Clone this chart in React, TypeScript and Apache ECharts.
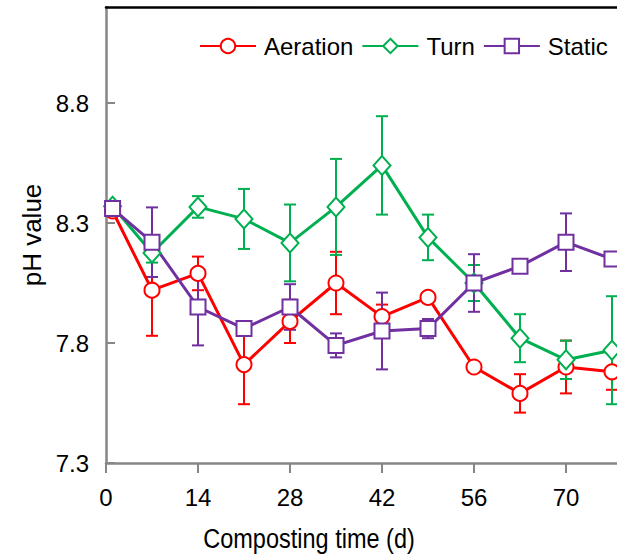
import React, { useEffect, useRef } from 'react';
import * as echarts from 'echarts';

const days = [1, 7, 14, 21, 28, 35, 42, 49, 56, 63, 70, 77];
const aeration = [8.35, 8.02, 8.09, 7.71, 7.89, 8.05, 7.91, 7.99, 7.7, 7.59, 7.7, 7.68];
const aerationSd = [0.02, 0.19, 0.07, 0.165, 0.09, 0.13, 0.05, 0.02, 0.02, 0.08, 0.11, 0.075];
const turn = [8.37, 8.175, 8.367, 8.317, 8.217, 8.367, 8.54, 8.24, 8.05, 7.82, 7.73, 7.77];
const turnSd = [0.02, 0.04, 0.045, 0.125, 0.16, 0.2, 0.205, 0.095, 0.075, 0.1, 0.08, 0.225];
const staticPile = [8.36, 8.22, 7.95, 7.86, 7.95, 7.79, 7.85, 7.86, 8.05, 8.12, 8.22, 8.15];
const staticSd = [0.02, 0.145, 0.16, 0.03, 0.095, 0.05, 0.16, 0.04, 0.12, 0.02, 0.12, 0.02];
const seriesNames = ['Aeration', 'Turn', 'Static'];
const xTicks = [0, 14, 28, 42, 56, 70];
const yTicks = [7.3, 7.8, 8.3, 8.8];
const xTitle = 'Composting time (d)';

const RED = '#FF0000';
const GREEN = '#00B050';
const PURPLE = '#7030A0';
const AXIS_GRAY = '#868686';
const REG = '"Liberation Sans", Arial, sans-serif';

function errSeries(name: string, vals: number[], sds: number[], color: string) {
  return {
    type: 'custom',
    name: name + ' SD',
    silent: true,
    data: days.map((d, i) => [d, vals[i], sds[i]]),
    encode: { x: 0, y: 1 },
    renderItem: (_params: any, api: any) => {
      const x = api.value(0);
      const y = api.value(1);
      const e = api.value(2);
      const top = api.coord([x, y + e]);
      const bot = api.coord([x, y - e]);
      const hw = 6;
      const st = { stroke: color, lineWidth: 2 };
      return {
        type: 'group',
        children: [
          { type: 'line', shape: { x1: top[0], y1: top[1], x2: bot[0], y2: bot[1] }, style: st },
          { type: 'line', shape: { x1: top[0] - hw, y1: top[1], x2: top[0] + hw, y2: top[1] }, style: st },
          { type: 'line', shape: { x1: bot[0] - hw, y1: bot[1], x2: bot[0] + hw, y2: bot[1] }, style: st },
        ],
      };
    },
  };
}

function lineSeries(name: string, vals: number[], color: string, symbol: string, size: any) {
  return {
    type: 'line',
    name,
    data: days.map((d, i) => [d, vals[i]]),
    symbol,
    symbolSize: size,
    showAllSymbol: true,
    lineStyle: { color, width: 3 },
    itemStyle: { color, borderColor: color, borderWidth: 2 },
    emphasis: { disabled: true },
  };
}

export default function App() {
  const ref = useRef<HTMLDivElement>(null);
  useEffect(() => {
    const prevMargin = document.body.style.margin;
    document.body.style.margin = '0';
    const chart = echarts.init(ref.current!, null, { renderer: 'svg' });
    chart.setOption({
      animation: false,
      backgroundColor: '#ffffff',
      grid: { left: 106, top: 7, width: 552, height: 456, containLabel: false },
      legend: {
        data: seriesNames,
        left: 199,
        top: 34,
        padding: 0,
        itemWidth: 56,
        itemHeight: 18,
        itemGap: 8,
        textStyle: { fontSize: 24, fontFamily: REG, color: '#000', padding: [0, 0, 0, 3] },
      },
      xAxis: [
        {
          type: 'value',
          min: 0,
          max: 84,
          interval: 14,
          axisLine: { show: true, onZero: false, lineStyle: { color: AXIS_GRAY, width: 2.5 } },
          axisTick: { show: true, inside: false, length: 10, lineStyle: { color: AXIS_GRAY, width: 2 }, customValues: xTicks },
          axisLabel: { show: true, margin: 22, fontSize: 24, fontFamily: REG, color: '#000', customValues: xTicks },
          splitLine: { show: false },
        },
        {
          type: 'value',
          position: 'top',
          min: 0,
          max: 84,
          axisLine: { show: true, onZero: false, lineStyle: { color: '#000', width: 2.5 } },
          axisTick: { show: false },
          axisLabel: { show: false },
          splitLine: { show: false },
        },
      ],
      yAxis: {
        type: 'value',
        min: 7.3,
        max: 9.2,
        name: 'pH value',
        nameLocation: 'middle',
        nameGap: 60,
        nameTextStyle: { fontSize: 26, fontFamily: REG, color: '#000' },
        axisLine: { show: true, onZero: false, lineStyle: { color: AXIS_GRAY, width: 2.5 } },
        axisTick: { show: true, inside: true, length: 9, lineStyle: { color: AXIS_GRAY, width: 2 }, customValues: yTicks },
        axisLabel: {
          show: true,
          margin: 17,
          fontSize: 24,
          fontFamily: REG,
          color: '#000',
          customValues: yTicks,
          formatter: (v: number) => v.toFixed(1),
        },
        splitLine: { show: false },
      },
      graphic: [
        {
          type: 'text',
          x: 309,
          y: 538,
          scaleX: 0.84,
          style: {
            text: xTitle,
            fontSize: 28,
            fontFamily: REG,
            fill: '#000',
            align: 'center',
            verticalAlign: 'middle',
          },
        },
      ],
      series: [
        errSeries('Aeration', aeration, aerationSd, RED),
        lineSeries('Aeration', aeration, RED, 'emptyCircle', 15),
        errSeries('Turn', turn, turnSd, GREEN),
        lineSeries('Turn', turn, GREEN, 'emptyDiamond', [17, 19]),
        errSeries('Static', staticPile, staticSd, PURPLE),
        lineSeries('Static', staticPile, PURPLE, 'emptyRect', 15),
      ],
    });
    return () => {
      chart.dispose();
      document.body.style.margin = prevMargin;
    };
  }, []);
  return (
    <div style={{ position: 'fixed', left: 0, top: 0, width: 617, height: 558, overflow: 'hidden', background: '#fff' }}>
      <div ref={ref} style={{ width: 700, height: 558 }} />
    </div>
  );
}
